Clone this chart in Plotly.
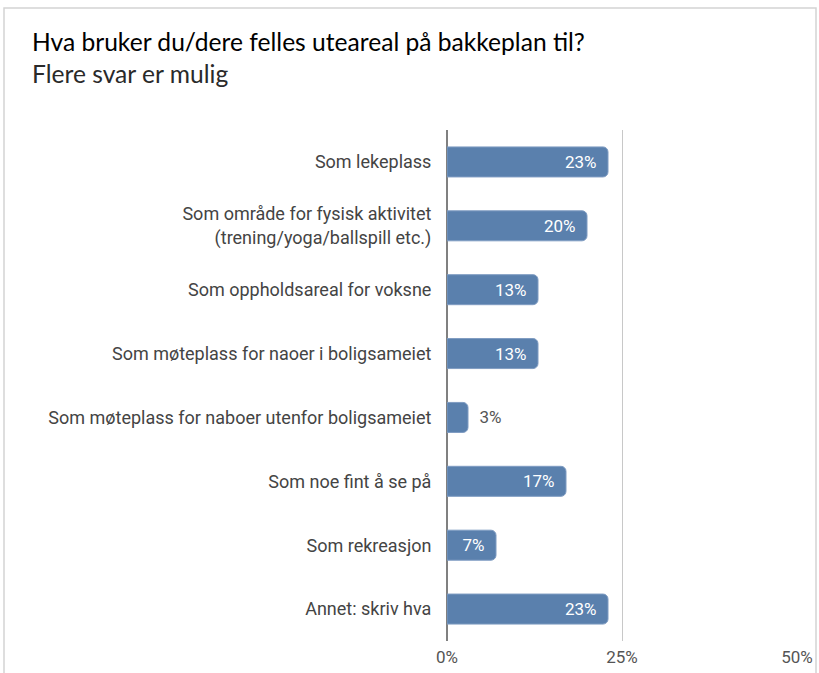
import plotly.graph_objects as go

# survey answers, top to bottom as shown
categories = [
    "Som lekeplass",
    "Som område for fysisk aktivitet<br>(trening/yoga/ballspill etc.)",
    "Som oppholdsareal for voksne",
    "Som møteplass for naoer i boligsameiet",
    "Som møteplass for naboer utenfor boligsameiet",
    "Som noe fint å se på",
    "Som rekreasjon",
    "Annet: skriv hva",
]
shares = [23, 20, 13, 13, 3, 17, 7, 23]
x_ticks = [0, 25, 50]
x_tick_labels = ["0%", "25%", "50%"]

title = "Hva bruker du/dere felles uteareal på bakkeplan til?"
subtitle = "Flere svar er mulig"

W, H = 819, 673
L, R, T, B = 447, 22, 130, 32
pw, ph = W - L - R, H - T - B


def px(x):  # pixel -> paper x
    return (x - L) / pw


def py(y):  # pixel -> paper y
    return (H - B - y) / ph


# small bars get their label outside, like the source chart
nb = "\u00a0"
positions = ["inside" if v >= 5 else "outside" for v in shares]
labels = [f"{v}%{nb * 2}" if p == "inside" else f"{nb * 2}{v}%" for v, p in zip(shares, positions)]

fig = go.Figure(
    go.Bar(
        x=shares,
        y=categories,
        orientation="h",
        marker=dict(color="#5a80ad", line=dict(color="#7f9cc2", width=1), cornerradius=5),
        width=0.47,
        text=labels,
        textposition=positions,
        textangle=0,
        insidetextanchor="end",
        insidetextfont=dict(color="white", size=17, family="Roboto"),
        outsidetextfont=dict(color="#555555", size=17, family="Roboto"),
        cliponaxis=False,
        hoverinfo="skip",
    )
)

fig.update_xaxes(
    range=[0, 50],
    tickvals=x_ticks,
    ticktext=x_tick_labels,
    showgrid=True,
    gridcolor="#c8c8c8",
    gridwidth=1,
    zeroline=True,
    zerolinecolor="#808080",
    zerolinewidth=1.5,
    tickfont=dict(family="Roboto", size=17, color="#555555"),
    ticks="outside",
    ticklen=1,
    tickcolor="rgba(0,0,0,0)",
    fixedrange=True,
)
fig.update_yaxes(
    autorange="reversed",
    tickfont=dict(family="Roboto", size=18, color="#444444"),
    ticks="outside",
    ticklen=11,
    tickcolor="rgba(0,0,0,0)",
    showline=False,
    fixedrange=True,
)

fig.add_shape(
    type="rect", xref="paper", yref="paper",
    x0=px(4), x1=px(816), y0=py(690), y1=py(8),
    line=dict(color="#d4d4d4", width=1.5), fillcolor="rgba(0,0,0,0)", layer="below",
)
fig.add_annotation(
    text=title, xref="paper", yref="paper", x=px(30), y=py(41),
    xanchor="left", yanchor="middle", showarrow=False,
    font=dict(family="Lato", size=24.6, color="#000000"),
)
fig.add_annotation(
    text=subtitle, xref="paper", yref="paper", x=px(30), y=py(73),
    xanchor="left", yanchor="middle", showarrow=False,
    font=dict(family="Lato", size=24.6, color="#2a2a2a"),
)

fig.update_layout(
    width=W,
    height=H,
    margin=dict(l=L, r=R, t=T, b=B, autoexpand=False),
    paper_bgcolor="white",
    plot_bgcolor="white",
    showlegend=False,
)

# drop the browser's default body margin so the figure sits at the page corner
fig.write_html(
    "out.html",
    config={"displayModeBar": False},
    post_script="document.body.style.margin='0';",
)
